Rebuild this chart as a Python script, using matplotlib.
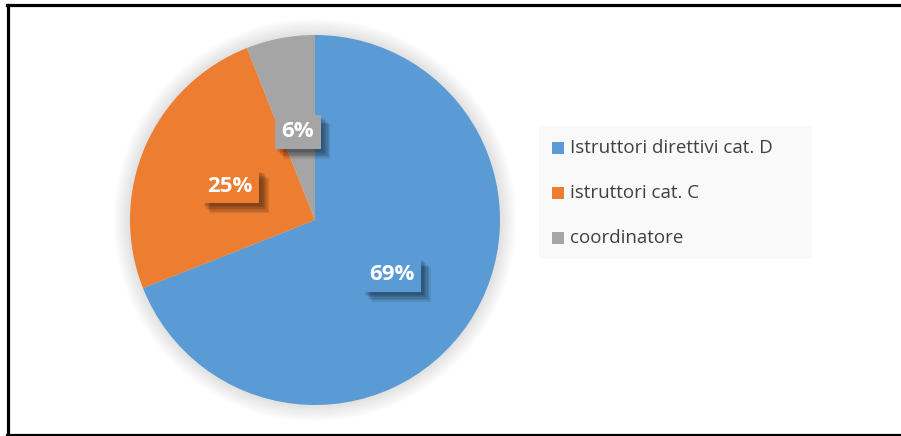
import matplotlib
matplotlib.use('Agg')

import matplotlib.pyplot as plt
import matplotlib.patheffects as pe
from matplotlib.patches import Rectangle, Circle

# dati
categorie = ['Istruttori direttivi cat. D', 'istruttori cat. C', 'coordinatore']
percentuali = [69, 25, 6]
colori = ['#5B9BD5', '#ED7D31', '#A5A5A5']

W, H = 901, 436
fig = plt.figure(figsize=(W / 100, H / 100), dpi=100)
fig.patch.set_facecolor('white')


def fx(px):
    return px / W


def fy(py):
    # coordinate pixel dall'alto -> frazione dal basso
    return 1 - py / H


# cornice nera (senza lato destro, come nell'immagine)
fig.add_artist(plt.Line2D([fx(8), fx(8)], [fy(5.5), fy(434.5)], color='black', lw=2.3))
fig.add_artist(plt.Line2D([fx(7), 1.0], [fy(5.5), fy(5.5)], color='black', lw=2.3))
fig.add_artist(plt.Line2D([fx(7), 1.0], [fy(434.5), fy(434.5)], color='black', lw=2.3))

# torta
cx, cy, r = 315, 220, 185
ax = fig.add_axes([fx(cx - r), fy(cy + r), (2 * r) / W, (2 * r) / H])

# ombra morbida attorno alla torta
for i in range(16):
    ax.add_patch(Circle((0, 0), 1 + 0.006 * i, color='black', alpha=0.007, lw=0,
                        zorder=0, clip_on=False))

wedges, texts = ax.pie(
    percentuali,
    colors=colori,
    startangle=90,
    counterclock=False,
    radius=1,
    labels=[f'{p}%' for p in percentuali],
    labeldistance=0.5,
    wedgeprops=dict(linewidth=0),
)

# ombra sfumata delle etichette
ombra = [pe.SimplePatchShadow(offset=(k, -k), shadow_rgbFace='black', alpha=0.09)
         for k in (7, 6, 5, 4, 3, 2)]

for t, c in zip(texts, colori):
    x, y = t.get_position()
    t.set_position((x, y - 0.015))
    t.set_ha('center')
    t.set_va('center')
    t.set_color('white')
    t.set_fontsize(16)
    t.set_fontweight('bold')
    t.set_fontfamily('Open Sans')
    t.set_bbox(dict(boxstyle='square,pad=0.3', facecolor=c, edgecolor='none'))
    t.get_bbox_patch().set_path_effects(ombra + [pe.Normal()])
ax.set_xlim(-1.0, 1.0)
ax.set_ylim(-1.0, 1.0)
ax.set_aspect('equal')
ax.axis('off')

# legenda
lx0, ly0, lx1, ly1 = 539, 126, 812, 259
fig.add_artist(Rectangle((fx(lx0), fy(ly1)), (lx1 - lx0) / W, (ly1 - ly0) / H,
                         transform=fig.transFigure, facecolor='#F9F9F9', edgecolor='none'))
righe_y = [148, 193, 238]
for nome, col, yy in zip(categorie, colori, righe_y):
    fig.add_artist(Rectangle((fx(552), fy(yy + 6)), 12 / W, 12 / H,
                             transform=fig.transFigure, facecolor=col, edgecolor='none'))
    fig.text(fx(570), fy(yy), nome, ha='left', va='center', fontsize=13.5,
             color='#404040', family='Open Sans')

fig.savefig('out.png', dpi=100)
